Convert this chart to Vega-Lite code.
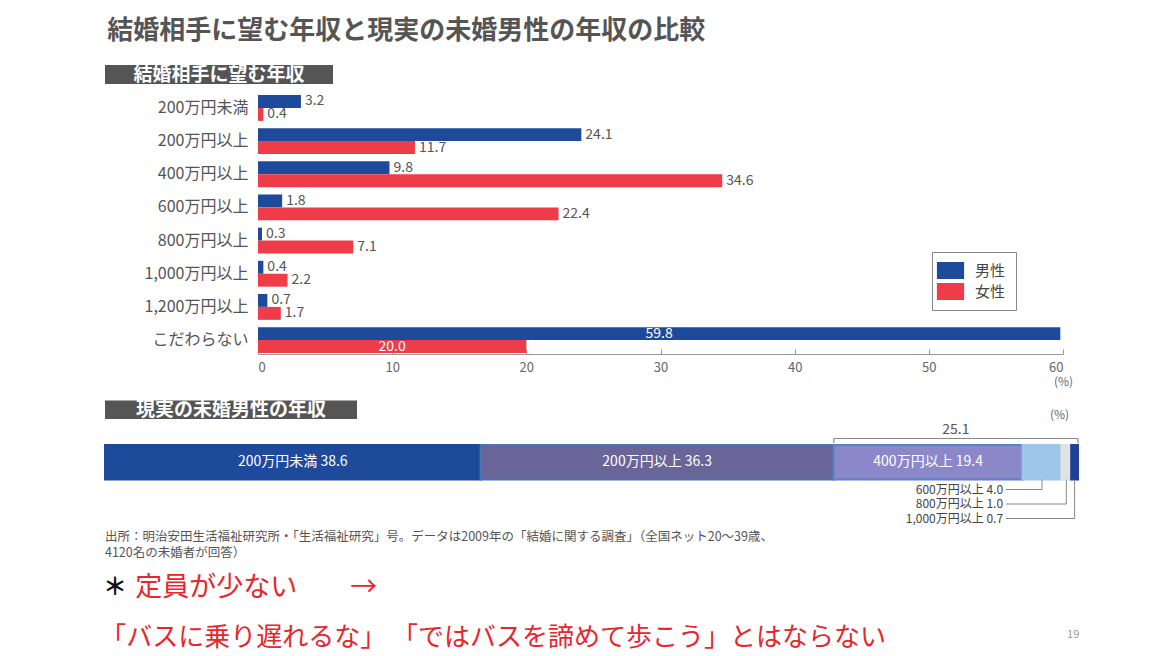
{
  "$schema": "https://vega.github.io/schema/vega-lite/v6.json",
  "background": "white",
  "padding": {"left": 100, "top": 18, "right": 5, "bottom": 2},
  "title": {"text": "結婚相手に望む年収と現実の未婚男性の年収の比較", "anchor": "start", "dx": 7, "fontSize": 26, "font": "Noto Sans CJK JP", "fontWeight": "bold", "color": "#555555", "offset": 21},
  "config": {"view": {"stroke": null}, "font": "Noto Sans CJK JP", "text": {"font": "Noto Sans CJK JP"}},
  "datasets": {
    "segments": [
      {"band": "200万円未満", "order": 1, "value": 38.6},
      {"band": "200万円以上", "order": 2, "value": 36.3},
      {"band": "400万円以上", "order": 3, "value": 19.4},
      {"band": "600万円以上", "order": 4, "value": 4.0},
      {"band": "800万円以上", "order": 5, "value": 1.0},
      {"band": "1,000万円以上", "order": 6, "value": 0.7}
    ]
  },
  "columns": 1,
  "spacing": 9,
  "resolve": {"scale": {"color": "independent", "stroke": "independent"}, "legend": {"color": "independent", "stroke": "independent"}},
  "concat": [
    {
      "width": 75, "height": 19,
      "data": {"values": [{"label": "結婚相手に望む年収"}]},
      "transform": [
        {"calculate": "-153", "as": "hx0"}, {"calculate": "75", "as": "hx1"},
        {"calculate": "0", "as": "hy0"}, {"calculate": "19", "as": "hy1"},
        {"calculate": "-39", "as": "tx"}, {"calculate": "9.5", "as": "ty"}
      ],
      "layer": [
        {
          "mark": {"type": "rect", "color": "#555555"},
          "encoding": {
            "x": {"field": "hx0", "type": "quantitative", "scale": {"domain": [0, 75], "nice": false, "zero": false}, "axis": null},
            "x2": {"field": "hx1"},
            "y": {"field": "hy0", "type": "quantitative", "scale": {"domain": [0, 19], "reverse": true, "nice": false, "zero": false}, "axis": null},
            "y2": {"field": "hy1"}
          }
        },
        {
          "mark": {"type": "text", "color": "white", "fontSize": 19, "fontWeight": "bold"},
          "encoding": {
            "x": {"field": "tx", "type": "quantitative", "axis": null},
            "y": {"field": "ty", "type": "quantitative", "axis": null},
            "text": {"field": "label", "type": "nominal"}
          }
        }
      ]
    },
    {
      "width": 805, "height": 260,
      "data": {"values": [
        {"category": "200万円未満", "sex": "男性", "value": 3.2},
        {"category": "200万円未満", "sex": "女性", "value": 0.4},
        {"category": "200万円以上", "sex": "男性", "value": 24.1},
        {"category": "200万円以上", "sex": "女性", "value": 11.7},
        {"category": "400万円以上", "sex": "男性", "value": 9.8},
        {"category": "400万円以上", "sex": "女性", "value": 34.6},
        {"category": "600万円以上", "sex": "男性", "value": 1.8},
        {"category": "600万円以上", "sex": "女性", "value": 22.4},
        {"category": "800万円以上", "sex": "男性", "value": 0.3},
        {"category": "800万円以上", "sex": "女性", "value": 7.1},
        {"category": "1,000万円以上", "sex": "男性", "value": 0.4},
        {"category": "1,000万円以上", "sex": "女性", "value": 2.2},
        {"category": "1,200万円以上", "sex": "男性", "value": 0.7},
        {"category": "1,200万円以上", "sex": "女性", "value": 1.7},
        {"category": "こだわらない", "sex": "男性", "value": 59.8},
        {"category": "こだわらない", "sex": "女性", "value": 20.0}
      ]},
      "encoding": {
        "y": {"field": "category", "type": "nominal",
          "sort": ["200万円未満", "200万円以上", "400万円以上", "600万円以上", "800万円以上", "1,000万円以上", "1,200万円以上", "こだわらない"],
          "scale": {"paddingInner": 0.22, "paddingOuter": 0.03},
          "axis": {"title": null, "ticks": false, "domain": false, "labelFontSize": 16, "labelColor": "#555555", "labelPadding": 10, "minExtent": 153, "maxExtent": 153}},
        "yOffset": {"field": "sex", "type": "nominal", "sort": ["男性", "女性"]},
        "x": {"field": "value", "type": "quantitative", "scale": {"domain": [0, 60], "nice": false},
          "axis": {"values": [0, 10, 20, 30, 40, 50, 60], "grid": false, "domainColor": "#999999", "tickColor": "#999999", "tickSize": -5, "labelPadding": 12, "labelFontSize": 13, "labelColor": "#666666", "title": "(%)", "titleFontSize": 12, "titleColor": "#666666", "titleFontWeight": "normal", "titleAnchor": "end", "titleAlign": "center", "titlePadding": 2}}
      },
      "layer": [
        {
          "mark": {"type": "bar"},
          "encoding": {
            "color": {"field": "sex", "type": "nominal", "sort": ["男性", "女性"],
              "scale": {"range": ["#1e4a9c", "#ee3d48"]},
              "legend": {"title": null, "orient": "none", "legendX": 674, "legendY": 158, "strokeColor": "#888888", "padding": 10, "fillColor": "white", "labelFontSize": 15, "labelColor": "#444444", "symbolType": "M-1.6,-1H1.6V1H-1.6Z", "symbolSize": 289, "symbolStrokeWidth": 0, "symbolOpacity": 1, "labelOffset": 16, "rowPadding": 4}}
          }
        },
        {
          "transform": [{"filter": "datum.category != 'こだわらない'"}],
          "mark": {"type": "text", "align": "left", "dx": 4, "fontSize": 14, "color": "#555555"},
          "encoding": {"text": {"field": "value", "type": "quantitative", "format": ".1f"}}
        },
        {
          "transform": [{"filter": "datum.category == 'こだわらない'"}, {"calculate": "datum.value / 2", "as": "mid"}],
          "mark": {"type": "text", "align": "center", "fontSize": 14, "color": "white"},
          "encoding": {"x": {"field": "mid", "type": "quantitative"}, "text": {"field": "value", "type": "quantitative", "format": ".1f"}}
        }
      ]
    },
    {
      "width": 820, "height": 260,
      "layer": [
        {
          "data": {"values": [{"label": "現実の未婚男性の年収"}]},
          "transform": [{"calculate": "0", "as": "hx0"}, {"calculate": "25.9", "as": "hx1"}, {"calculate": "0", "as": "hy0"}, {"calculate": "18.5", "as": "hy1"}],
          "mark": {"type": "rect", "color": "#555555"},
          "encoding": {
            "x": {"field": "hx0", "type": "quantitative", "scale": {"domain": [15.725, 100], "nice": false, "zero": false}, "axis": null},
            "x2": {"field": "hx1"},
            "y": {"field": "hy0", "type": "quantitative", "scale": {"domain": [-4.5, 255.5], "reverse": true, "nice": false, "zero": false}, "axis": null},
            "y2": {"field": "hy1"}
          }
        },
        {
          "data": {"values": [{"label": "現実の未婚男性の年収"}]},
          "mark": {"type": "text", "color": "white", "fontSize": 19, "fontWeight": "bold"},
          "encoding": {
            "x": {"datum": 12.95, "type": "quantitative", "axis": null},
            "y": {"datum": 9.5, "type": "quantitative", "axis": null},
            "text": {"field": "label", "type": "nominal"}
          }
        },
        {
          "data": {"name": "segments"},
          "transform": [
            {"stack": "value", "groupby": [], "sort": [{"field": "order"}], "as": ["x0", "x1"]},
            {"calculate": "44.5", "as": "sy0"}, {"calculate": "79", "as": "sy1"}
          ],
          "mark": {"type": "rect", "strokeWidth": 2},
          "encoding": {
            "x": {"field": "x0", "type": "quantitative", "axis": null},
            "x2": {"field": "x1"},
            "y": {"field": "sy0", "type": "quantitative", "axis": null},
            "y2": {"field": "sy1"},
            "color": {"field": "band", "type": "nominal", "sort": ["200万円未満", "200万円以上", "400万円以上", "600万円以上", "800万円以上", "1,000万円以上"], "scale": {"range": ["#1e4a9c", "#6a6598", "#8b88c9", "#9ec6e8", "#e2e2e2", "#1f3f99"]}, "legend": null},
            "stroke": {"field": "band", "type": "nominal", "sort": ["200万円未満", "200万円以上", "400万円以上", "600万円以上", "800万円以上", "1,000万円以上"], "scale": {"range": ["#1e4a9c", "#4a72b8", "#5a82c8", "#9ec6e8", "#e2e2e2", "#1f3f99"]}, "legend": null}
          }
        },
        {
          "data": {"name": "segments"},
          "transform": [
            {"stack": "value", "groupby": [], "sort": [{"field": "order"}], "as": ["x0", "x1"]},
            {"filter": "datum.order <= 3"},
            {"calculate": "(datum.x0 + datum.x1) / 2", "as": "mid"},
            {"calculate": "datum.band + '  ' + format(datum.value, '.1f')", "as": "lab"}
          ],
          "mark": {"type": "text", "color": "white", "fontSize": 14},
          "encoding": {
            "x": {"field": "mid", "type": "quantitative", "axis": null},
            "y": {"datum": 61.5, "type": "quantitative", "axis": null},
            "text": {"field": "lab", "type": "nominal"}
          }
        },
        {
          "data": {"name": "segments"},
          "transform": [
            {"stack": "value", "groupby": [], "sort": [{"field": "order"}], "as": ["x0", "x1"]},
            {"filter": "datum.order >= 4"},
            {"calculate": "89 + (datum.order - 4) * 14.5", "as": "ly"},
            {"calculate": "datum.band + '  ' + format(datum.value, '.1f')", "as": "lab"}
          ],
          "mark": {"type": "text", "color": "#444444", "fontSize": 12, "align": "right"},
          "encoding": {
            "x": {"datum": 92.3, "type": "quantitative", "axis": null},
            "y": {"field": "ly", "type": "quantitative", "axis": null},
            "text": {"field": "lab", "type": "nominal"}
          }
        },
        {
          "data": {"name": "segments"},
          "transform": [
            {"stack": "value", "groupby": [], "sort": [{"field": "order"}], "as": ["x0", "x1"]},
            {"filter": "datum.order >= 4"},
            {"calculate": "(datum.x0 + datum.x1) / 2", "as": "mid"},
            {"calculate": "92.6", "as": "lx"},
            {"calculate": "79", "as": "by"},
            {"calculate": "89 + (datum.order - 4) * 14.5", "as": "ly"}
          ],
          "layer": [
            {
              "mark": {"type": "rule", "color": "#888888", "strokeWidth": 1},
              "encoding": {
                "x": {"field": "lx", "type": "quantitative", "axis": null},
                "x2": {"field": "mid"},
                "y": {"field": "ly", "type": "quantitative", "axis": null}
              }
            },
            {
              "mark": {"type": "rule", "color": "#888888", "strokeWidth": 1},
              "encoding": {
                "x": {"field": "mid", "type": "quantitative", "axis": null},
                "y": {"field": "by", "type": "quantitative", "axis": null},
                "y2": {"field": "ly"}
              }
            }
          ]
        },
        {
          "data": {"name": "segments"},
          "transform": [
            {"stack": "value", "groupby": [], "sort": [{"field": "order"}], "as": ["x0", "x1"]},
            {"filter": "datum.order >= 3"},
            {"aggregate": [{"op": "min", "field": "x0", "as": "b0"}, {"op": "max", "field": "x1", "as": "b1"}, {"op": "sum", "field": "value", "as": "tot"}]},
            {"calculate": "(datum.b0 + datum.b1) / 2", "as": "bm"},
            {"calculate": "38", "as": "bk0"},
            {"calculate": "42.5", "as": "bk1"},
            {"calculate": "29", "as": "bt"}
          ],
          "layer": [
            {
              "mark": {"type": "rule", "color": "#888888", "strokeWidth": 1.2},
              "encoding": {
                "x": {"field": "b0", "type": "quantitative", "axis": null},
                "x2": {"field": "b1"},
                "y": {"field": "bk0", "type": "quantitative", "axis": null}
              }
            },
            {
              "mark": {"type": "rule", "color": "#888888", "strokeWidth": 1.2},
              "encoding": {
                "x": {"field": "b0", "type": "quantitative", "axis": null},
                "y": {"field": "bk0", "type": "quantitative", "axis": null},
                "y2": {"field": "bk1"}
              }
            },
            {
              "mark": {"type": "rule", "color": "#888888", "strokeWidth": 1.2},
              "encoding": {
                "x": {"field": "b1", "type": "quantitative", "axis": null},
                "y": {"field": "bk0", "type": "quantitative", "axis": null},
                "y2": {"field": "bk1"}
              }
            },
            {
              "mark": {"type": "text", "color": "#555555", "fontSize": 14},
              "encoding": {
                "x": {"field": "bm", "type": "quantitative", "axis": null},
                "y": {"field": "bt", "type": "quantitative", "axis": null},
                "text": {"field": "tot", "type": "quantitative", "format": ".1f"}
              }
            }
          ]
        },
        {
          "data": {"values": [{"t": "(%)"}]},
          "mark": {"type": "text", "color": "#666666", "fontSize": 12},
          "encoding": {
            "x": {"datum": 98.1, "type": "quantitative", "axis": null},
            "y": {"datum": 14, "type": "quantitative", "axis": null},
            "text": {"field": "t", "type": "nominal"}
          }
        },
        {
          "data": {"values": [
            {"line": 0, "t": "出所：明治安田生活福祉研究所・「生活福祉研究」号。データは2009年の「結婚に関する調査」（全国ネット20〜39歳、"},
            {"line": 1, "t": "4120名の未婚者が回答）"}
          ]},
          "transform": [{"calculate": "136 + datum.line * 16", "as": "ty"}],
          "mark": {"type": "text", "color": "#555555", "fontSize": 12.5, "align": "left"},
          "encoding": {
            "x": {"datum": 0, "type": "quantitative", "axis": null},
            "y": {"field": "ty", "type": "quantitative", "axis": null},
            "text": {"field": "t", "type": "nominal"}
          }
        },
        {
          "data": {"values": [{"t": "＊"}]},
          "mark": {"type": "text", "color": "#111111", "fontSize": 24, "align": "left", "fontWeight": "bold"},
          "encoding": {
            "x": {"datum": -0.2, "type": "quantitative", "axis": null},
            "y": {"datum": 187, "type": "quantitative", "axis": null},
            "text": {"field": "t", "type": "nominal"}
          }
        },
        {
          "data": {"values": [{"t": "定員が少ない"}, {"t": "→"}]},
          "transform": [{"calculate": "datum.t == '→' ? 25.2 : 3.1", "as": "tx"}],
          "mark": {"type": "text", "color": "#e8262b", "fontSize": 27, "align": "left"},
          "encoding": {
            "x": {"field": "tx", "type": "quantitative", "axis": null},
            "y": {"datum": 187, "type": "quantitative", "axis": null},
            "text": {"field": "t", "type": "nominal"}
          }
        },
        {
          "data": {"values": [{"t": "「バスに乗り遅れるな」 「ではバスを諦めて歩こう」とはならない"}]},
          "mark": {"type": "text", "color": "#e8262b", "fontSize": 26, "align": "left"},
          "encoding": {
            "x": {"datum": -0.5, "type": "quantitative", "axis": null},
            "y": {"datum": 237, "type": "quantitative", "axis": null},
            "text": {"field": "t", "type": "nominal"}
          }
        },
        {
          "data": {"values": [{"t": "19"}]},
          "mark": {"type": "text", "color": "#999999", "fontSize": 11},
          "encoding": {
            "x": {"datum": 99.5, "type": "quantitative", "axis": null},
            "y": {"datum": 234, "type": "quantitative", "axis": null},
            "text": {"field": "t", "type": "nominal"}
          }
        }
      ]
    }
  ]
}
